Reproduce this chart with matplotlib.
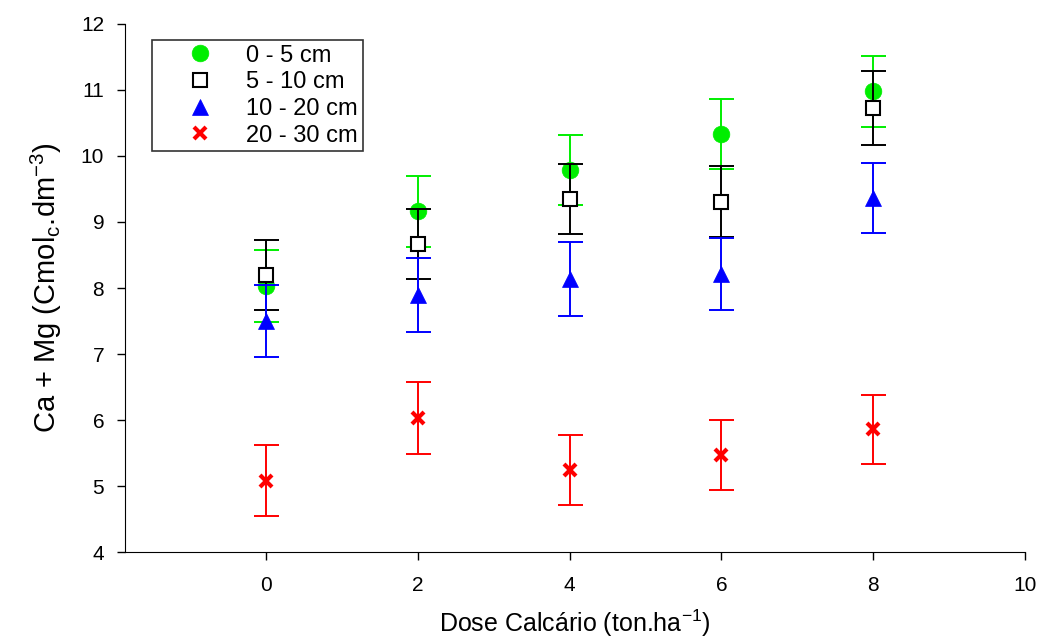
import matplotlib
matplotlib.use("Agg")
import matplotlib.pyplot as plt
from matplotlib.lines import Line2D

plt.rcParams['font.family'] = ['Liberation Sans', 'DejaVu Sans']
plt.rcParams['mathtext.fontset'] = 'custom'
plt.rcParams['mathtext.rm'] = 'Liberation Sans'
plt.rcParams['mathtext.it'] = 'Liberation Sans'

dose = [0, 2, 4, 6, 8]
labels = ["0 - 5 cm", "5 - 10 cm", "10 - 20 cm", "20 - 30 cm"]
v_0_5 = [8.03, 9.16, 9.79, 10.34, 10.98]
e_0_5 = [0.54, 0.54, 0.53, 0.53, 0.54]
v_5_10 = [8.19, 8.67, 9.35, 9.31, 10.72]
e_5_10 = [0.53, 0.53, 0.53, 0.54, 0.56]
v_10_20 = [7.50, 7.89, 8.13, 8.21, 9.36]
e_10_20 = [0.54, 0.56, 0.56, 0.54, 0.53]
v_20_30 = [5.08, 6.03, 5.24, 5.47, 5.86]
e_20_30 = [0.54, 0.54, 0.53, 0.53, 0.52]

series = [
    (v_0_5, e_0_5, dict(marker='o', color='#00ee00', markersize=12,
                        markerfacecolor='#00ee00', markeredgecolor='#00ee00', markeredgewidth=0.5)),
    (v_5_10, e_5_10, dict(marker='s', color='black', markersize=10,
                          markerfacecolor='white', markeredgecolor='black', markeredgewidth=1.5)),
    (v_10_20, e_10_20, dict(marker='^', color='#0000ff', markersize=12,
                            markerfacecolor='#0000ff', markeredgecolor='#0000ff', markeredgewidth=0.5)),
    (v_20_30, e_20_30, dict(marker='x', color='#ff0000', markersize=8.5,
                            markeredgewidth=3)),
]

fig = plt.figure(figsize=(10.42, 6.41), dpi=100)
ax = fig.add_axes([0.12, 0.1388, 0.8637, 0.8238])

handles = []
z = 2
for (vals, errs, st), lab in zip(series, labels):
    ax.errorbar(dose, vals, yerr=errs, fmt='none', ecolor=st['color'],
                capsize=9, elinewidth=1.4, capthick=1.4, zorder=z)
    ax.plot(dose, vals, linestyle='none', zorder=z + 0.5, **st)
    handles.append(Line2D([], [], linestyle='none', **st))
    z += 1

ax.set_xlim(-1.855, 10)
ax.set_ylim(4, 12)
ax.set_xticks([0, 2, 4, 6, 8, 10])
ax.set_yticks(range(4, 13))
ax.spines['top'].set_visible(False)
ax.spines['right'].set_visible(False)
ax.tick_params(axis='x', direction='out', length=6, width=1, labelsize=15, pad=11)
ax.tick_params(axis='y', direction='out', length=6, width=1, labelsize=15, pad=9)
ax.set_xlabel('Dose Calcário (ton.ha$^{\\mathregular{-1}}$)', fontsize=18, labelpad=9)
ax.set_ylabel('Ca + Mg (Cmol$_{\\mathregular{c}}$.dm$^{\\mathregular{-3}}$)', fontsize=21, labelpad=12)

leg = ax.legend(handles, labels, loc='upper left', bbox_to_anchor=(0.03, 0.97),
                fontsize=17, frameon=True, fancybox=False, edgecolor='black',
                handlelength=3.7, handletextpad=0.1, borderpad=0.2,
                labelspacing=0.2, borderaxespad=0)
leg.get_frame().set_linewidth(1.2)

fig.savefig('out.png', dpi=100)
